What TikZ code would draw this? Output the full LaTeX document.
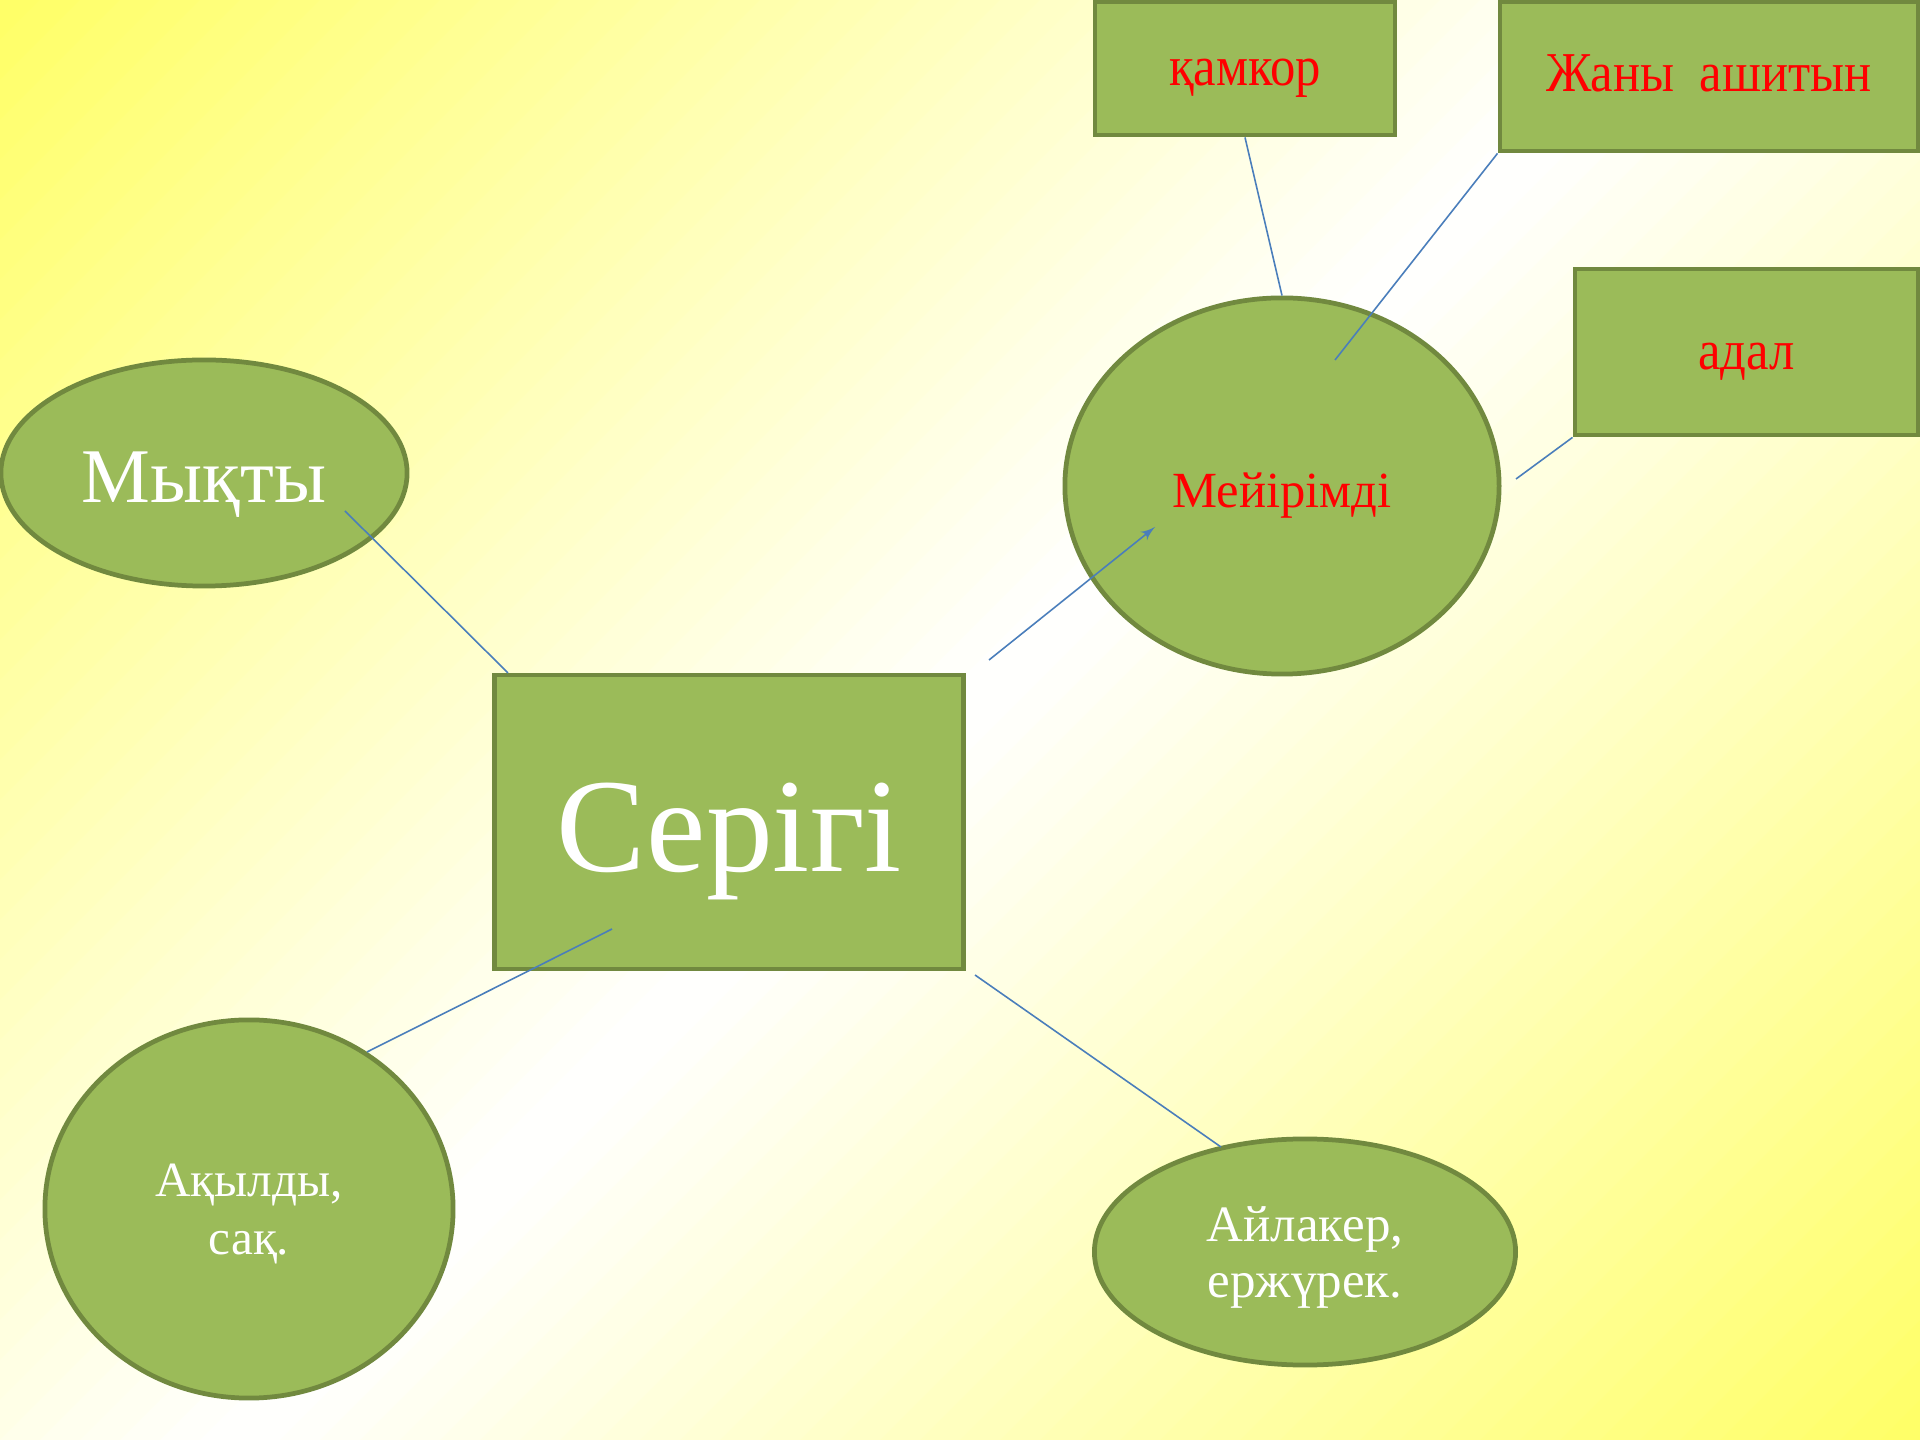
\documentclass[tikz,border=0pt]{standalone}
\usepackage{fontspec}
\setmainfont{Liberation Serif}
\newfontfamily\narrowfont[FakeStretch=0.9]{Liberation Serif}
\usepackage{tikz}
\usetikzlibrary{shapes,arrows,calc}
\definecolor{boxgreen}{HTML}{9BBB59}
\definecolor{boxedge}{HTML}{71893F}
\definecolor{linkblue}{HTML}{4A7EBB}
\definecolor{bgyellow}{HTML}{FFFF66}
\tikzstyle{line} = [draw, linkblue, line width=0.45pt]
\tikzstyle{arrowline} = [line, -latex']
\tikzstyle{block} = [draw=boxedge, fill=boxgreen, rectangle, line width=1.35pt, text centered, text depth=0pt]
\tikzstyle{cloud} = [draw=boxedge, fill=boxgreen, ellipse, line width=1.35pt, text centered, align=center, inner sep=0pt, text depth=0pt]

\begin{document}
\begin{tikzpicture}[x=0.01cm, y=-0.01cm, auto]
        \useasboundingbox (0,0) rectangle (1920,1440);
        % diagonal background, yellow in two corners and white across the middle
        \begin{scope}
            \clip (0,0) rectangle (1920,1440);
            \foreach \s in {0,40,...,3320} {
                \pgfmathsetmacro\p{abs(\s+20-1680)/16.8}
                \fill[bgyellow!\p!white] (\s,0) -- (\s+42,0) -- (\s+42-1440,1440) -- (\s-1440,1440) -- cycle;
            }
        \end{scope}
        \node[block, minimum width=4.69cm, minimum height=2.94cm, text=white, text height=28.4pt, font=\fontsize{38}{44}\selectfont] (seri) at (729,822) {Серігі};
        \node[cloud, minimum width=4.06cm, minimum height=2.26cm, text=white, text height=16.5pt, font=\fontsize{22}{26}\selectfont] (mykty) at (204,473) {Мықты};
        \node[cloud, minimum width=4.34cm, minimum height=3.76cm, text=red, text height=12.5pt, font=\fontsize{14.4}{18}\selectfont] (meyir) at (1282,486) {Мейірімді};
        \node[cloud, minimum width=4.08cm, minimum height=3.78cm, text=white, font=\fontsize{14}{16.5}\selectfont] (aqyldy) at (249,1209) {Ақылды,\\сақ.};
        \node[cloud, minimum width=4.21cm, minimum height=2.26cm, text=white, font=\fontsize{14.5}{16}\selectfont] (ailaker) at (1305,1252) {Айлакер,\\ержүрек.};
        \node[block, minimum width=3cm, minimum height=1.33cm, text=red, text height=9.4pt, font=\narrowfont\fontsize{16}{19}\selectfont] (kamkor) at (1245,68.5) {қамкор};
        \node[block, minimum width=4.18cm, minimum height=1.49cm, text=red, text height=8.8pt, font=\narrowfont\fontsize{16}{19}\selectfont] (zhany) at (1709,76.5) {Жаны\ \ ашитын};
        \node[block, minimum width=3.43cm, minimum height=1.66cm, text=red, text height=10.2pt, font=\narrowfont\fontsize{16}{19}\selectfont] (adal) at (1746.5,352) {адал};
        % free ends of the links
        \coordinate (myktyIn) at (345,511);
        \coordinate (seriTop) at (508,673);
        \coordinate (seriOut) at (989,660);
        \coordinate (meyirIn) at (1155,527);
        \coordinate (zhanyEnd) at (1335,360);
        \coordinate (adalEnd) at (1516,479);
        \coordinate (seriIn) at (612,929);
        \coordinate (aqyldyTop) at (367,1052);
        \coordinate (seriCorner) at (975,975);
        \coordinate (ailakerTop) at (1221,1147);
        \path[line] (myktyIn) -- (seriTop);
        \path[arrowline] (seriOut) -- (meyirIn);
        \path[line] (kamkor.south) -- (meyir.north);
        \path[line] (zhany.south west) -- (zhanyEnd);
        \path[line] (adal.south west) -- (adalEnd);
        \path[line] (seriIn) -- (aqyldyTop);
        \path[line] (seriCorner) -- (ailakerTop);
    \end{tikzpicture}
\end{document}
